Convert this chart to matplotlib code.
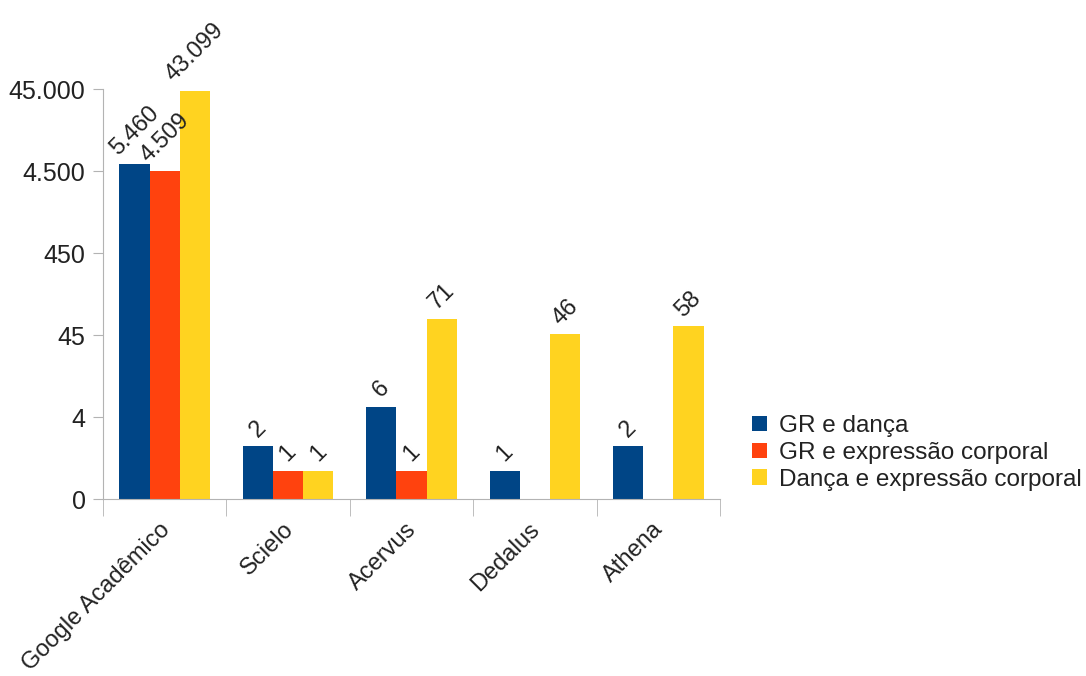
import numpy as np
import matplotlib
matplotlib.use("Agg")
import matplotlib.pyplot as plt
from matplotlib.transforms import ScaledTranslation

plt.rcParams['font.family'] = ['Liberation Sans', 'DejaVu Sans']

# data
categories = ["Google Acadêmico", "Scielo", "Acervus", "Dedalus", "Athena"]
series_names = ["GR e dança", "GR e expressão corporal", "Dança e expressão corporal"]
gr_danca = [5460, 2, 6, 1, 2]
gr_expressao = [4509, 1, 1, 0, 0]
danca_expressao = [43099, 1, 71, 46, 58]
y_ticks = [0.45, 4.5, 45, 450, 4500, 45000]
y_tick_labels = ["0", "4", "45", "450", "4.500", "45.000"]

colors = ["#004586", "#ff420e", "#ffd320"]
grey = "#b3b3b3"
txt = "#222222"
fs = 18
base = y_ticks[0]

fig = plt.figure(figsize=(10.86, 6.76), dpi=100)
ax = fig.add_axes([0.0948, 0.2618, 0.5682, 0.6065])

x = np.arange(len(categories))
w = 0.245
all_series = [gr_danca, gr_expressao, danca_expressao]
for i, (vals, name) in enumerate(zip(all_series, series_names)):
    pos = x + (i - 1) * w
    v = np.array(vals, dtype=float)
    v[v == 0] = np.nan
    ax.bar(pos, v - base, width=w, bottom=base, color=colors[i], label=name)
    for p, val in zip(pos, vals):
        if val == 0:
            continue
        lab = f"{val:,}".replace(",", ".")
        ax.annotate(lab, (p, val), xytext=(0, 3.5), textcoords="offset points",
                    ha="center", va="bottom", rotation=45, fontsize=17,
                    color=txt, annotation_clip=False)

ax.set_yscale("log")
ax.set_ylim(base, 45000)
ax.set_xlim(-0.5, len(categories) - 0.5)
ax.set_yticks(y_ticks)
ax.set_yticklabels(y_tick_labels)
ax.yaxis.set_minor_locator(matplotlib.ticker.NullLocator())
ax.tick_params(axis="y", length=7.5, color=grey, labelsize=fs, labelcolor=txt, pad=5)

ax.set_xticks(x)
ax.set_xticklabels(categories, rotation=45, ha="right", va="top",
                   rotation_mode="anchor", fontsize=17, color=txt)
ax.set_xticks(np.arange(-0.5, len(categories)), minor=True)
ax.tick_params(axis="x", which="major", length=0, pad=14)
ax.tick_params(axis="x", which="minor", length=12, color=grey)
shift = ScaledTranslation(-6 / 100, 0, fig.dpi_scale_trans)
for t in ax.get_xticklabels():
    t.set_transform(t.get_transform() + shift)

for s in ["top", "right"]:
    ax.spines[s].set_visible(False)
for s in ["left", "bottom"]:
    ax.spines[s].set_color(grey)

fig.legend(loc="center left", bbox_to_anchor=(0.6925, 0.33), frameon=False,
           fontsize=17.5, handlelength=0.6, handleheight=0.6, handletextpad=0.5,
           labelspacing=0.2, borderpad=0, borderaxespad=0, labelcolor=txt)

fig.savefig("out.png", dpi=100)
